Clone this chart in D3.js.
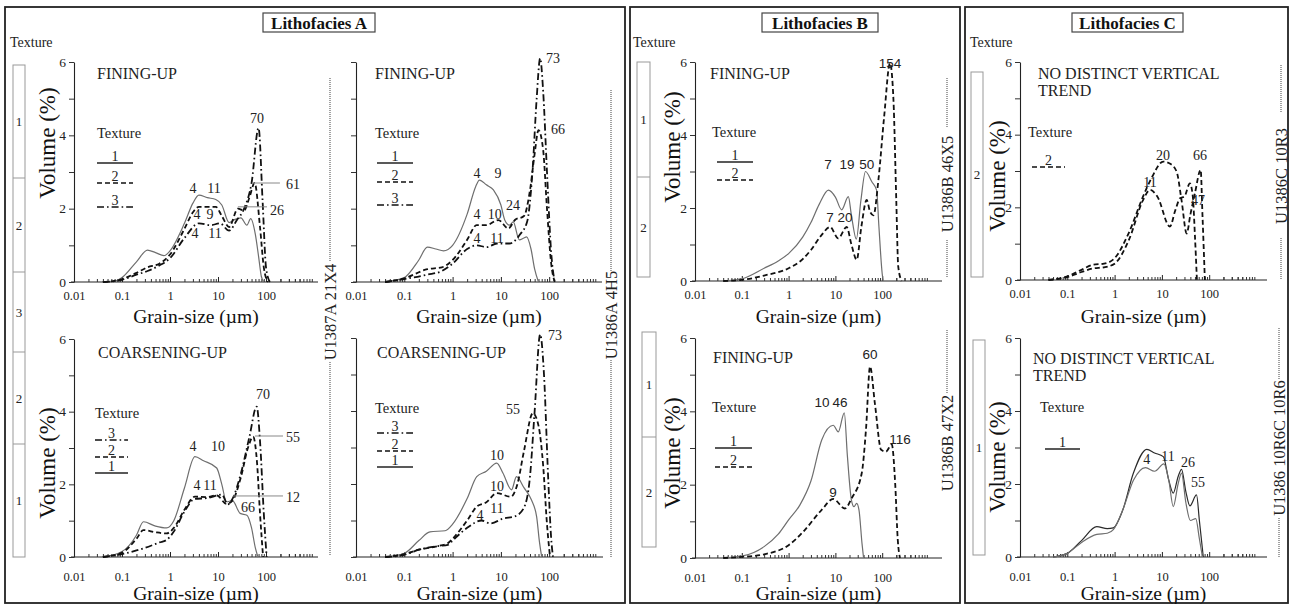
<!DOCTYPE html>
<html><head><meta charset="utf-8">
<script src="https://cdn.jsdelivr.net/npm/d3@7/dist/d3.min.js"></script>
<style>html,body{margin:0;padding:0;background:#fff}svg{display:block}
svg text{font-family:"Liberation Serif","Times New Roman",Times,"DejaVu Serif",serif}
svg text.sans{font-family:"Liberation Sans",Arial,Helvetica,sans-serif}
</style>
</head><body>
<script>
// ================= DATA =================
const xTickValues = [0.01, 0.1, 1, 10, 100];
const xTickLabels = ["0.01", "0.1", "1", "10", "100"];
const yTickValues = [0, 1, 2, 3, 4, 5, 6];
const yTickLabels = ["0", "", "2", "", "4", "", "6"];
const panelTitles = ["Lithofacies A", "Lithofacies B", "Lithofacies C"];
const coreLabels = ["U1387A 21X4", "U1386A 4H5", "U1386B 46X5", "U1386B 47X2", "U1386C 10R3", "U1386 10R6C 10R6"];
const trendLabels = ["FINING-UP", "COARSENING-UP", "NO DISTINCT VERTICAL", "TREND"];
const textureColA = ["1", "2", "3", "2", "1"];
const textureColB1 = ["1", "2"];
const textureColB2 = ["1", "2"];
const textureColC1 = ["2"];
const textureColC2 = ["1"];

// grain size (µm), volume (%)
const aTL_tex1 = [[0.04,0],[0.07,0.02],[0.1,0.12],[0.2,0.55],[0.34,0.87],[0.5,0.8],[0.75,0.72],[1,0.85],[2,1.6],[3,2.15],[4,2.37],[6,2.3],[9,2.25],[12,2.1],[17,1.62],[22,1.7],[30,1.75],[40,1.55],[48,1.73],[60,1.3],[70,0.7],[80,0.15],[90,0]];
const aTL_tex2 = [[0.04,0],[0.1,0.08],[0.2,0.25],[0.34,0.4],[0.6,0.5],[1,0.75],[2,1.45],[3,1.9],[4,2.05],[6,2.05],[9,2.05],[12,1.8],[17,1.5],[26,2.0],[35,1.95],[45,2.3],[58,2.7],[75,1.5],[90,0.4],[110,0]];
const aTL_tex3 = [[0.04,0],[0.1,0.06],[0.2,0.2],[0.34,0.3],[0.6,0.45],[1,0.65],[2,1.2],[4,1.6],[7,1.55],[11,1.6],[17,1.4],[25,1.7],[35,2.0],[50,2.7],[70,4.2],[85,2.2],[100,0.4],[120,0]];

const aTR_tex1 = [[0.04,0],[0.1,0.12],[0.2,0.6],[0.3,0.95],[0.45,0.9],[0.65,0.85],[1,1.0],[2,1.85],[3,2.6],[3.6,2.78],[5,2.65],[7,2.51],[10,2.1],[12,1.69],[15,1.55],[18,1.64],[24,1.15],[30,1.2],[34,1.23],[42,0.9],[50,0.35],[60,0]];
const aTR_tex2 = [[0.04,0],[0.1,0.1],[0.3,0.35],[0.6,0.4],[1,0.6],[2,1.15],[3.15,1.55],[5,1.55],[8.85,1.69],[14.3,1.46],[19.5,1.69],[30,1.8],[40,2.5],[50,3.5],[60,4.14],[75,3.6],[90,2.0],[110,0.5],[130,0]];
const aTR_tex3 = [[0.04,0],[0.1,0.08],[0.3,0.2],[0.6,0.3],[1,0.5],[2,0.9],[3.2,1.0],[5,0.95],[8.3,1.05],[15,1.05],[25,1.3],[35,1.65],[45,3.0],[55,5.0],[65,6.1],[75,5.2],[90,3.0],[110,0.8],[130,0]];

const aBL_tex1 = [[0.04,0],[0.1,0.15],[0.2,0.6],[0.28,0.97],[0.5,0.85],[0.85,0.8],[1.2,1.0],[2,1.9],[3.3,2.76],[5,2.65],[9.4,2.45],[12,2.0],[15,1.52],[20,1.55],[29,1.2],[40,1.15],[50,0.8],[60,0.25],[68,0]];
const aBL_tex2 = [[0.04,0],[0.1,0.12],[0.2,0.5],[0.28,0.74],[0.5,0.68],[0.85,0.65],[1.2,0.8],[2,1.3],[3.3,1.66],[6,1.65],[9.4,1.7],[15,1.46],[20,1.55],[30,2.2],[42,3.0],[54,3.31],[65,2.6],[75,1.2],[87,0]];
const aBL_tex3 = [[0.04,0],[0.1,0.08],[0.2,0.18],[0.3,0.25],[0.6,0.4],[0.85,0.47],[1.2,0.7],[2,1.25],[3.3,1.6],[6,1.62],[12,1.72],[16,1.45],[20,1.6],[30,2.3],[45,3.3],[64,4.14],[75,3.2],[90,1.2],[103,0]];

const aBR_tex1 = [[0.04,0],[0.1,0.1],[0.2,0.45],[0.34,0.69],[0.7,0.72],[1,0.9],[2,1.6],[3.16,2.2],[5,2.35],[8.2,2.57],[11,2.3],[16.6,1.84],[21,2.2],[30,1.9],[43,1.56],[55,1.1],[63,0.4],[70,0]];
const aBR_tex2 = [[0.04,0],[0.1,0.08],[0.2,0.2],[0.5,0.3],[0.8,0.38],[1,0.5],[2,1.0],[3.16,1.38],[5,1.5],[8.2,1.75],[16,1.65],[22,2.0],[30,2.9],[46,3.94],[60,3.6],[75,2.5],[90,0.9],[104,0]];
const aBR_tex3 = [[0.04,0],[0.1,0.06],[0.2,0.2],[0.5,0.3],[0.8,0.33],[1,0.45],[2,0.8],[4,1.0],[6,0.92],[11,1.05],[20,1.12],[30,1.35],[40,2.2],[50,4.0],[65,6.1],[78,5.0],[95,2.2],[110,0.5],[120,0]];

const bT_tex1 = [[0.04,0],[0.1,0.06],[0.3,0.35],[0.6,0.55],[1,0.75],[2,1.2],[3,1.6],[4.5,2.1],[7.1,2.49],[10,2.3],[13.6,1.95],[18.9,2.31],[22,1.8],[28,1.15],[35,2.2],[44,3.0],[60,2.72],[76,2.49],[85,1.5],[100,0.2],[105,0]];
const bT_tex2 = [[0.04,0],[0.1,0.03],[0.3,0.15],[1,0.35],[2,0.6],[3,0.85],[5,1.25],[7.7,1.48],[11.5,1.17],[17.4,1.48],[22,1.0],[28.5,0.58],[36,1.5],[46.6,2.22],[55,1.9],[65,1.8],[83,2.77],[110,4.5],[147,5.97],[174,4.96],[200,2.2],[220,0.4],[260,0]];

const bB_tex1 = [[0.04,0],[0.1,0.05],[0.3,0.31],[0.6,0.65],[1,1.04],[1.75,1.45],[3,2.1],[5.1,3.22],[9,3.62],[11.5,3.44],[15.5,3.96],[18,2.8],[22,1.58],[25,1.4],[28.5,1.49],[32,1.3],[37,0.4],[40,0]];
const bB_tex2 = [[0.04,0],[0.1,0.03],[0.3,0.1],[1,0.35],[2,0.7],[5,1.3],[9,1.61],[16,1.35],[22.3,1.63],[36.5,2.31],[45,3.5],[55,5.22],[70,4.2],[95,2.95],[120,2.9],[160,3.1],[190,2.0],[215,0.5],[240,0]];

const cT_tex2a = [[0.04,0],[0.1,0.08],[0.2,0.22],[0.35,0.32],[0.6,0.35],[1,0.45],[2,1.1],[4,2.2],[5.6,2.48],[8,2.3],[14.8,1.47],[19,1.9],[24.2,2.25],[30,2.3],[39,2.66],[45,2.3],[50,1.2],[55,0]];
const cT_tex2b = [[0.04,0],[0.1,0.1],[0.2,0.28],[0.35,0.42],[0.6,0.45],[1,0.6],[2,1.3],[4,2.3],[6,2.8],[10.7,3.26],[15,3.2],[20.5,2.98],[26,2.2],[33.4,1.28],[40,1.8],[50,2.39],[66,3.03],[72,1.8],[81,0]];

const cB_tex1a = [[0.05,0],[0.1,0.1],[0.2,0.45],[0.42,0.83],[0.7,0.78],[0.94,0.8],[1.5,1.3],[2.5,2.3],[4.8,2.95],[7,2.85],[10.7,2.75],[14,2.1],[17.4,1.75],[22,2.2],[26,2.4],[32,1.8],[39,1.4],[54,1.7],[62,1.0],[75,0]];
const cB_tex1b = [[0.05,0],[0.1,0.1],[0.2,0.4],[0.42,0.62],[0.7,0.65],[0.94,0.75],[1.5,1.3],[2.5,2.1],[4.5,2.45],[7,2.35],[11,2.55],[14,2.1],[17.4,1.38],[22,2.0],[26,2.3],[32,1.5],[40,1.0],[52,1.05],[62,0.5],[72,0]];

// modal-size annotations: [text, grain size, volume]
const aTL_notes = [["70",65,4.47],["4",3.0,2.54],["11",8.3,2.54],["61",365,2.67],["26",169,1.96],["4",3.65,1.83],["9",6.8,1.83],["4",3.3,1.31],["11",8.7,1.31]];
const aTL_leaders = [[51,195,2.7],[26,105,2.05]];
const aTR_notes = [["73",120,6.1],["66",152,4.15],["4",3.2,2.95],["9",8.7,2.95],["4",3.2,1.83],["10",7.5,1.83],["24",17.8,2.1],["4",3.2,1.2],["11",8.3,1.2]];
const aBL_notes = [["70",87,4.46],["55",365,3.3],["4",3.0,3.03],["10",10,3.03],["4",3.65,1.98],["11",6.8,1.98],["12",365,1.65],["66",42,1.35]];
const aBL_leaders = [[59,226,3.33],[20.5,226,1.68]];
const aBR_notes = [["73",132,6.08],["55",17.8,4.03],["10",8.3,2.79],["10",8.3,1.92],["11",8.3,1.34],["4",3.7,1.15]];
const bT_notes = [["154",147,5.97],["7",6.95,3.18],["19",17.7,3.18],["50",47,3.18],["7",7.7,1.73],["20",16,1.73]];
const bB_notes = [["60",55,5.54],["10",5.2,4.23],["46",12.5,4.23],["116",240,3.22],["9",8.9,1.8]];
const cT_notes = [["20",10.5,3.44],["66",64,3.44],["11",5.6,2.67],["47",58,2.2]];
const cB_notes = [["4",4.8,2.66],["11",13.5,2.74],["26",35.6,2.58],["55",58,2.03]];

// ================= DRAWING =================
const W = 1292, H = 609;
const svg = d3.select("body").append("svg").attr("width", W).attr("height", H);
svg.append("rect").attr("width", W).attr("height", H).attr("fill", "#fff");

const styles = {
  solid: {stroke: "#6e6e6e", width: 1.2, dash: null},
  dark: {stroke: "#2a2a2a", width: 1.2, dash: null},
  legsolid: {stroke: "#222", width: 1.4, dash: null},
  dash: {stroke: "#111", width: 1.8, dash: "5,3"},
  dashdot: {stroke: "#111", width: 1.8, dash: "7,3,1.6,3"}
};

// panel frames
const frames = [[5, 7, 625, 603], [630, 7, 960, 603], [965, 7, 1288, 603]];
frames.forEach(f => svg.append("rect").attr("x", f[0]).attr("y", f[1])
  .attr("width", f[2] - f[0]).attr("height", f[3] - f[1])
  .attr("fill", "none").attr("stroke", "#222").attr("stroke-width", 1.8));
const titleBoxes = [[263, 13, 375, 32], [762, 13, 878, 32], [1072, 13, 1183, 32]];
titleBoxes.forEach((b, i) => {
  svg.append("rect").attr("x", b[0]).attr("y", b[1]).attr("width", b[2] - b[0]).attr("height", b[3] - b[1])
    .attr("fill", "#fff").attr("stroke", "#444").attr("stroke-width", 1.2);
  svg.append("text").attr("x", (b[0] + b[2]) / 2).attr("y", (b[1] + b[3]) / 2 + 1)
    .attr("text-anchor", "middle").attr("dominant-baseline", "central")
    .attr("font-weight", "bold").attr("font-size", 17).attr("fill", "#111").text(panelTitles[i]);
});
// "Texture" headers
[[10, 42], [633, 42], [970, 42]].forEach(p => svg.append("text").attr("x", p[0]).attr("y", p[1])
  .attr("dominant-baseline", "central").attr("font-size", 14).attr("fill", "#222").text("Texture"));

// texture columns
function textureColumn(labels, x1, x2, bounds) {
  const g = svg.append("g");
  g.append("rect").attr("x", x1).attr("y", bounds[0]).attr("width", x2 - x1)
    .attr("height", bounds[bounds.length - 1] - bounds[0]).attr("fill", "none").attr("stroke", "#999").attr("stroke-width", 1);
  labels.forEach((l, i) => {
    if (i > 0) g.append("line").attr("x1", x1).attr("x2", x2).attr("y1", bounds[i]).attr("y2", bounds[i])
      .attr("stroke", "#999").attr("stroke-width", 1);
    g.append("text").attr("x", (x1 + x2) / 2).attr("y", (bounds[i] + bounds[i + 1]) / 2)
      .attr("text-anchor", "middle").attr("dominant-baseline", "central").attr("font-size", 13).attr("fill", "#222").text(l);
  });
}
textureColumn(textureColA, 13, 25, [65, 178, 272, 352, 444, 557]);
textureColumn(textureColB1, 637, 650, [62, 177, 277]);
textureColumn(textureColB2, 642, 656, [332, 437, 547]);
textureColumn(textureColC1, 971, 983, [72, 277]);
textureColumn(textureColC2, 973, 985, [340, 555]);

// core labels with dotted guide lines
const coreMarks = [
  {x: 330, cy: 312, segs: [[78, 262], [362, 555]]},
  {x: 611, cy: 315, segs: [[90, 272], [360, 557]]},
  {x: 947, cy: 184, segs: [[78, 128], [240, 278]]},
  {x: 947, cy: 443, segs: [[330, 393]]},
  {x: 1281, cy: 176, segs: [[65, 112], [238, 280]]},
  {x: 1279, cy: 448, segs: [[328, 380], [518, 557]]}
];
coreMarks.forEach((m, i) => {
  m.segs.forEach(s => svg.append("line").attr("x1", m.x).attr("x2", m.x).attr("y1", s[0]).attr("y2", s[1])
    .attr("stroke", "#555").attr("stroke-width", 1.1).attr("stroke-dasharray", "1,1"));
  svg.append("text").attr("transform", `translate(${m.x},${m.cy}) rotate(-90)`)
    .attr("text-anchor", "middle").attr("dominant-baseline", "central")
    .attr("font-size", 16.5).attr("fill", "#222").text(coreLabels[i]);
});

const minorTicks = [];
for (let e = -2; e <= 2; e++) for (let m = 2; m <= 9; m++) minorTicks.push(+(m * Math.pow(10, e)).toPrecision(3));
[200, 300, 400, 500].forEach(v => minorTicks.push(v));

function drawPlot(c) {
  const g = svg.append("g");
  const x = d3.scaleLog().domain([0.01, 100]).range([c.x0, c.x0 + 4 * c.dec]);
  const y = d3.scaleLinear().domain([0, 6]).range([c.y0, c.y6]);

  g.append("line").attr("x1", c.x0 - 3).attr("x2", c.xEnd).attr("y1", c.y0).attr("y2", c.y0)
    .attr("stroke", "#222").attr("stroke-width", 1.1);
  const xm = g.append("g").attr("transform", `translate(0,${c.y0})`)
    .call(d3.axisBottom(x).tickValues(minorTicks).tickSize(-3).tickFormat(""));
  xm.select(".domain").remove();
  xm.selectAll("line").attr("stroke", "#333");
  const xa = g.append("g").attr("transform", `translate(0,${c.y0})`)
    .call(d3.axisBottom(x).tickValues(xTickValues).tickSize(-5).tickPadding(c.tickPad)
      .tickFormat((d, i) => xTickLabels[i]));
  xa.attr("font-family", null);
  xa.select(".domain").remove();
  xa.selectAll("line").attr("stroke", "#222");
  xa.selectAll("text").attr("font-size", 12.5).attr("fill", "#222");

  const ya = g.append("g").attr("transform", `translate(${c.x0},0)`)
    .call(d3.axisLeft(y).tickValues(yTickValues).tickSize(5).tickSizeOuter(0).tickPadding(3)
      .tickFormat((d, i) => c.yLab ? yTickLabels[i] : ""));
  ya.attr("font-family", null);
  ya.select(".domain").attr("stroke", "#222").attr("stroke-width", 1.1);
  ya.selectAll("line").attr("stroke", "#333");
  ya.selectAll("text").attr("font-size", 13.5).attr("fill", "#222");

  g.append("text").attr("x", (c.x0 + c.xEnd) / 2).attr("y", c.grainY)
    .attr("text-anchor", "middle").attr("dominant-baseline", "central")
    .attr("font-size", 19.5).attr("fill", "#111").text("Grain-size (\u00b5m)");
  if (c.volX) {
    g.append("text").attr("transform", `translate(${c.volX},${c.volY}) rotate(-90)`)
      .attr("text-anchor", "middle").attr("dominant-baseline", "central")
      .attr("font-size", 23).attr("fill", "#111").text("Volume (%)");
  }

  c.trend.forEach((t, i) => g.append("text").attr("x", c.trendX).attr("y", c.trendY + i * 17)
    .attr("dominant-baseline", "central").attr("font-size", 16).attr("fill", "#222").text(t));

  const L = c.legend;
  g.append("text").attr("x", L.tx).attr("y", L.ty).attr("dominant-baseline", "central")
    .attr("font-size", 14.5).attr("fill", "#222").text("Texture");
  L.items.forEach(it => {
    const st = styles[it[1] === "solid" ? "legsolid" : it[1]];
    g.append("line").attr("x1", L.lx).attr("x2", L.lx + L.w).attr("y1", it[2]).attr("y2", it[2])
      .attr("stroke", st.stroke).attr("stroke-width", 1.5).attr("stroke-dasharray", st.dash);
    g.append("text").attr("x", L.lx + L.w / 2).attr("y", it[2] - 2).attr("text-anchor", "middle")
      .attr("font-size", 14).attr("fill", "#222").text(it[0]);
  });

  const line = d3.line().x(d => x(d[0])).y(d => y(d[1])).curve(d3.curveMonotoneX);
  c.series.forEach(s => {
    const st = styles[s[1]];
    g.append("path").datum(s[0]).attr("d", line).attr("fill", "none")
      .attr("stroke", st.stroke).attr("stroke-width", st.width).attr("stroke-dasharray", st.dash)
      .attr("stroke-linejoin", "round");
  });

  (c.leaders || []).forEach(l => g.append("line").attr("x1", x(l[0])).attr("x2", x(l[1]))
    .attr("y1", y(l[2])).attr("y2", y(l[2])).attr("stroke", "#888").attr("stroke-width", 1));
  c.notes.forEach(n => g.append("text").attr("class", c.sans ? "sans" : null)
    .attr("x", x(n[1])).attr("y", y(n[2]))
    .attr("text-anchor", "middle").attr("dominant-baseline", "central")
    .attr("font-size", c.sans ? 13.5 : 14)
    .attr("fill", "#222").text(n[0]));
}

const plots = [
  {x0: 74, dec: 48, xEnd: 318, y0: 282, y6: 62, yLab: true, tickPad: 9, grainY: 316, volX: 47, volY: 143,
   series: [[aTL_tex1, "solid"], [aTL_tex2, "dash"], [aTL_tex3, "dashdot"]], notes: aTL_notes, leaders: aTL_leaders,
   trend: [trendLabels[0]], trendX: 97, trendY: 73,
   legend: {tx: 97, ty: 133, lx: 97, w: 36, items: [["1", "solid", 163], ["2", "dash", 183], ["3", "dashdot", 207]]}},
  {x0: 356, dec: 48.3, xEnd: 602, y0: 282, y6: 62, yLab: false, tickPad: 9, grainY: 316,
   series: [[aTR_tex1, "solid"], [aTR_tex2, "dash"], [aTR_tex3, "dashdot"]], notes: aTR_notes,
   trend: [trendLabels[0]], trendX: 375, trendY: 73,
   legend: {tx: 375, ty: 133, lx: 377, w: 36, items: [["1", "solid", 163], ["2", "dash", 182], ["3", "dashdot", 205]]}},
  {x0: 74, dec: 48, xEnd: 318, y0: 557, y6: 339, yLab: true, tickPad: 15, grainY: 593, volX: 47, volY: 463,
   series: [[aBL_tex1, "solid"], [aBL_tex2, "dash"], [aBL_tex3, "dashdot"]], notes: aBL_notes, leaders: aBL_leaders,
   trend: [trendLabels[1]], trendX: 98, trendY: 352,
   legend: {tx: 95, ty: 413, lx: 95, w: 33, items: [["3", "dashdot", 440], ["2", "dash", 457], ["1", "solid", 473]]}},
  {x0: 356, dec: 48.3, xEnd: 603, y0: 557, y6: 338, yLab: false, tickPad: 15, grainY: 593,
   series: [[aBR_tex1, "solid"], [aBR_tex2, "dash"], [aBR_tex3, "dashdot"]], notes: aBR_notes,
   trend: [trendLabels[1]], trendX: 377, trendY: 352,
   legend: {tx: 375, ty: 408, lx: 377, w: 36, items: [["3", "dashdot", 433], ["2", "dash", 451], ["1", "solid", 467]]}},
  {x0: 695, dec: 46.8, xEnd: 942, y0: 281, y6: 62, yLab: true, tickPad: 9, grainY: 316, volX: 672, volY: 147,
   series: [[bT_tex1, "solid"], [bT_tex2, "dash"]], notes: bT_notes, sans: true,
   trend: [trendLabels[0]], trendX: 710, trendY: 73,
   legend: {tx: 712, ty: 132, lx: 717, w: 36, items: [["1", "solid", 162], ["2", "dash", 180]]}},
  {x0: 695, dec: 46.8, xEnd: 942, y0: 558, y6: 338, yLab: true, tickPad: 15, grainY: 593, volX: 672, volY: 453,
   series: [[bB_tex1, "solid"], [bB_tex2, "dash"]], notes: bB_notes, sans: true,
   trend: [trendLabels[0]], trendX: 713, trendY: 357,
   legend: {tx: 712, ty: 407, lx: 715, w: 37, items: [["1", "solid", 448], ["2", "dash", 467]]}},
  {x0: 1020, dec: 47.3, xEnd: 1267, y0: 280, y6: 62, yLab: true, tickPad: 9, grainY: 316, volX: 997, volY: 176,
   series: [[cT_tex2a, "dash"], [cT_tex2b, "dash"]], notes: cT_notes,
   trend: [trendLabels[2], trendLabels[3]], trendX: 1038, trendY: 73,
   legend: {tx: 1028, ty: 132, lx: 1032, w: 33, items: [["2", "dash", 167]]}},
  {x0: 1020, dec: 47.3, xEnd: 1267, y0: 557, y6: 338, yLab: true, tickPad: 15, grainY: 593, volX: 997, volY: 457,
   series: [[cB_tex1a, "dark"], [cB_tex1b, "solid"]], notes: cB_notes,
   trend: [trendLabels[2], trendLabels[3]], trendX: 1033, trendY: 358,
   legend: {tx: 1040, ty: 407, lx: 1045, w: 35, items: [["1", "solid", 449]]}}
];
plots.forEach(drawPlot);
</script>
</body></html>
